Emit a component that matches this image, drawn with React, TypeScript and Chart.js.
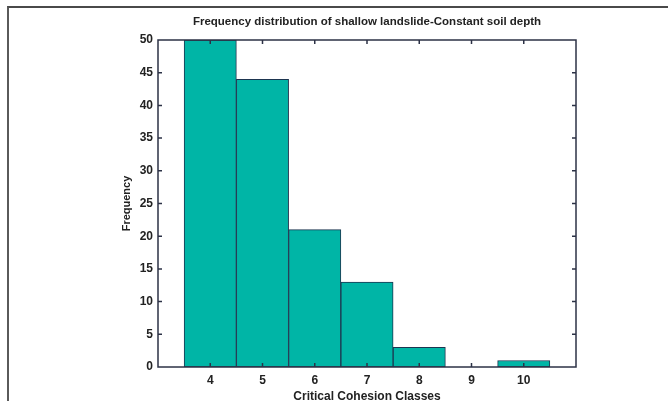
import React, { useEffect, useRef } from "react";
import { Chart, registerables } from "chart.js";

Chart.register(...registerables);

const classes = [4, 5, 6, 7, 8, 9, 10];
const frequencies = [50, 44, 21, 13, 3, 0, 1];
const yTicks = [0, 5, 10, 15, 20, 25, 30, 35, 40, 45, 50];
const titleText = "Frequency distribution of shallow landslide-Constant soil depth";
const xTitle = "Critical Cohesion Classes";
const yTitle = "Frequency";

const FONT = "'Liberation Sans', Arial, Helvetica, sans-serif";
const AXIS = "#2c3246";

const framePlugin = {
  id: "frame",
  afterDraw(chart: any) {
    const { ctx, chartArea } = chart;
    const xs = chart.scales.x;
    const ys = chart.scales.y;
    ctx.save();
    ctx.strokeStyle = AXIS;
    ctx.lineWidth = 1.5;
    ctx.strokeRect(chartArea.left, chartArea.top, chartArea.right - chartArea.left, chartArea.bottom - chartArea.top);
    ctx.lineWidth = 1.5;
    const L = 4;
    ctx.beginPath();
    for (const v of classes) {
      const px = xs.getPixelForValue(v);
      ctx.moveTo(px, chartArea.bottom);
      ctx.lineTo(px, chartArea.bottom - L);
      ctx.moveTo(px, chartArea.top);
      ctx.lineTo(px, chartArea.top + L);
    }
    for (const v of yTicks) {
      if (v === 0 || v === 50) continue;
      const py = ys.getPixelForValue(v);
      ctx.moveTo(chartArea.left, py);
      ctx.lineTo(chartArea.left + L, py);
      ctx.moveTo(chartArea.right, py);
      ctx.lineTo(chartArea.right - L, py);
    }
    ctx.stroke();
    // title
    ctx.fillStyle = "#222";
    ctx.font = `bold 11.5px ${FONT}`;
    ctx.textAlign = "center";
    ctx.textBaseline = "middle";
    ctx.fillText(titleText, (chartArea.left + chartArea.right) / 2, 22);
    ctx.restore();
  },
};

export default function App() {
  const ref = useRef<HTMLCanvasElement | null>(null);
  useEffect(() => {
    document.body.style.margin = "0";
    const chart = new Chart(ref.current as HTMLCanvasElement, {
      type: "bar",
      data: {
        datasets: [
          {
            data: classes.map((c, i) => ({ x: c, y: frequencies[i] })),
            backgroundColor: "#00b5a6",
            borderColor: "#1d3550",
            borderWidth: 1,
            borderSkipped: false,
            barPercentage: 1,
            categoryPercentage: 1,
          },
        ],
      },
      options: {
        animation: false,
        responsive: false,
        maintainAspectRatio: false,
        layout: { padding: { left: 100, right: 92, top: 40, bottom: 0 } },
        plugins: { legend: { display: false }, tooltip: { enabled: false }, title: { display: false } },
        scales: {
          x: {
            type: "linear",
            min: 3,
            max: 11,
            offset: false,
            grid: { display: false, drawTicks: false, offset: false },
            border: { display: false },
            afterBuildTicks(scale: any) {
              scale.ticks = classes.map((v) => ({ value: v }));
            },
            afterFit(scale: any) {
              scale.height = 34;
            },
            ticks: {
              stepSize: 1,
              padding: 6,
              color: "#222",
              font: { family: FONT, size: 12, weight: "bold" },
              callback: (v: any) => String(v),
            },
            title: {
              display: true,
              text: xTitle,
              color: "#222",
              font: { family: FONT, size: 12, weight: "bold" },
              padding: { top: -2.5, bottom: -2.5 },
            },
          },
          y: {
            min: 0,
            max: 50,
            grid: { display: false, drawTicks: false },
            border: { display: false },
            afterBuildTicks(scale: any) {
              scale.ticks = yTicks.map((v) => ({ value: v }));
            },
            afterFit(scale: any) {
              scale.width = 58;
            },
            ticks: {
              stepSize: 5,
              padding: 5,
              color: "#222",
              font: { family: FONT, size: 12, weight: "bold" },
            },
            title: {
              display: true,
              text: yTitle,
              color: "#222",
              font: { family: FONT, size: 11, weight: "bold" },
              padding: { top: 20, bottom: 0 },
            },
          },
        },
      },
      plugins: [framePlugin],
    } as any);
    return () => chart.destroy();
  }, []);
  return (
    <div style={{ position: "relative", width: 668, height: 401, background: "#fff", overflow: "hidden" }}>
      <div
        style={{
          position: "absolute",
          left: 7,
          top: 6,
          right: 0,
          bottom: 0,
          borderTop: "2px solid #4a4a4a",
          borderLeft: "2px solid #5a5a5a",
        }}
      />
      <canvas ref={ref} width={668} height={401} style={{ position: "absolute", left: 0, top: 0 }} />
    </div>
  );
}
